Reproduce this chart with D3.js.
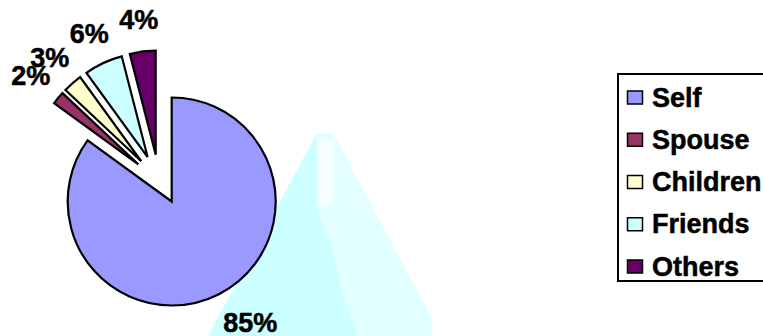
<!DOCTYPE html>
<html lang="en">
<head>
<meta charset="UTF-8">
<title>Pie</title>
<script src="https://cdn.jsdelivr.net/npm/d3@7"></script>
<style>
  body { margin: 0; background: #fff; }
  svg { display: block; font-family: "Liberation Sans", Arial, sans-serif; }
</style>
</head>
<body>
<svg id="chart" width="763" height="336"></svg>
<script>
// data
var categories = ["Self", "Spouse", "Children", "Friends", "Others"];
var values = [85, 2, 3, 6, 4];
var colors = ["#9999FF", "#993366", "#FFFFCC", "#CCFFFF", "#660066"];

var svg = d3.select("#chart"),
    cx = 171.7, cy = 201.5,
    radius = 104,
    explodeShift = [-12.6, -20],
    explodeDist = 27;

// pale background shape that sits behind the pie in the original
var bg = svg.append("g");
bg.append("polygon")
    .attr("points", "317,133 333,133 432,318 432,336 208,336")
    .attr("fill", "#E4FFFF");
bg.append("polygon")
    .attr("points", "317,133 317,210 333,250 342,290 358,336 208,336")
    .attr("fill", "#CCFFFF");
bg.append("polygon")
    .attr("points", "317,140 333,140 333,205 317,205")
    .attr("fill", "#F6FFFF");

var pie = d3.pie().sort(null).value(function (d) { return d; });
var arcs = pie(values);

var arc = d3.arc().innerRadius(0).outerRadius(radius);

function mid(d) { return (d.startAngle + d.endAngle) / 2; }

function offset(d, i) {
    if (i === 0) return [0, 0];
    var a = mid(d);
    return [explodeShift[0] + explodeDist * Math.sin(a),
            explodeShift[1] - explodeDist * Math.cos(a)];
}

var g = svg.append("g").attr("transform", "translate(" + cx + "," + cy + ")");

var slice = g.selectAll(".slice")
    .data(arcs)
    .enter().append("g")
    .attr("class", "slice")
    .attr("transform", function (d, i) {
        var o = offset(d, i);
        return "translate(" + o[0] + "," + o[1] + ")";
    });

slice.append("path")
    .attr("d", arc)
    .attr("fill", function (d, i) { return colors[i]; })
    .attr("stroke", "#000")
    .attr("stroke-width", 2.2)
    .attr("stroke-linejoin", "miter");

var labels = slice.append("text")
    .attr("dy", "0.36em")
    .attr("text-anchor", "middle")
    .attr("font-size", 27)
    .attr("font-weight", "bold")
    .attr("fill", "#000")
    .attr("stroke", "#000")
    .attr("stroke-width", 0.5)
    .text(function (d) { return d.data + "%"; });

// outside labels along the bisector; the big slice's label is pushed sideways by half its width
labels.each(function (d, i) {
    var a = mid(d),
        r = 146 - 10 * Math.abs(Math.cos(a)),
        x = r * Math.sin(a),
        y = -r * Math.cos(a);
    if (i === 0) {
        r = 135;
        x = r * Math.sin(a) + this.getComputedTextLength() / 2 * Math.abs(Math.sin(a)) * 1.4;
        y = -r * Math.cos(a);
    }
    d3.select(this).attr("x", x).attr("y", y);
});

// legend
var legend = svg.append("g");
legend.append("rect")
    .attr("x", 618).attr("y", 74)
    .attr("width", 170).attr("height", 207)
    .attr("fill", "#fff")
    .attr("stroke", "#000")
    .attr("stroke-width", 2);

var rowY = d3.scalePoint().domain(categories).range([97.5, 266.5]);

var item = legend.selectAll(".item")
    .data(categories)
    .enter().append("g")
    .attr("class", "item")
    .attr("transform", function (d) { return "translate(0," + rowY(d) + ")"; });

item.append("rect")
    .attr("x", 627.5).attr("y", -6.5)
    .attr("width", 15).attr("height", 13)
    .attr("fill", function (d, i) { return colors[i]; })
    .attr("stroke", "#000")
    .attr("stroke-width", 1.5);

item.append("text")
    .attr("x", 652)
    .attr("y", 9)
    .attr("font-size", 27)
    .attr("font-weight", "bold")
    .attr("fill", "#000")
    .attr("stroke", "#000")
    .attr("stroke-width", 0.5)
    .text(function (d) { return d; });
</script>
</body>
</html>
